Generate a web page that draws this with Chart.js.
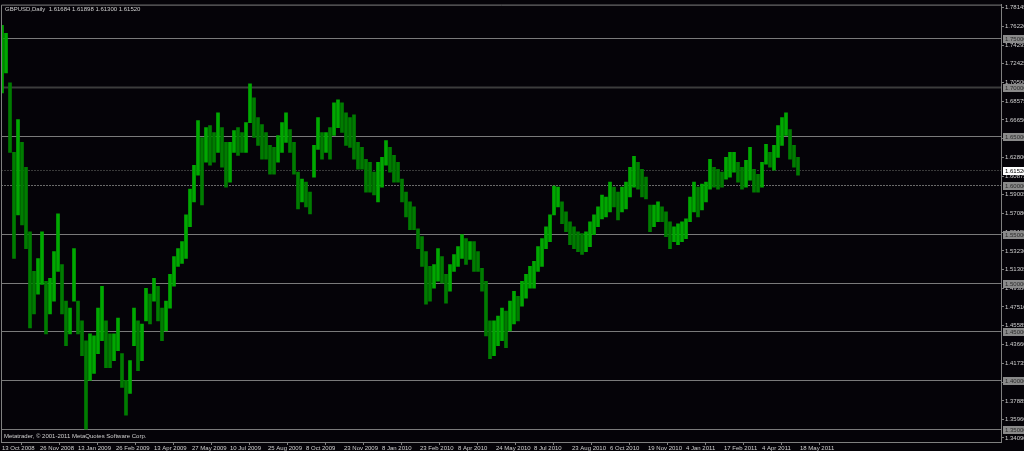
<!DOCTYPE html>
<html><head><meta charset="utf-8">
<script src="https://cdn.jsdelivr.net/npm/chart.js@4.4.1/dist/chart.umd.min.js"></script>
<style>html,body{margin:0;padding:0;background:#050308;overflow:hidden}#wrap{position:relative;width:1024px;height:451px}</style>
</head><body><div id="wrap"><canvas id="c"></canvas></div>
<script>
const symbolTitle = "GBPUSD,Daily  1.61684 1.61898 1.61300 1.61520";
const copyright = "Metatrader, \u00a9 2001-2011 MetaQuotes Software Corp.";
const dateLabels = ["13 Oct 2008","26 Nov 2008","13 Jan 2009","26 Feb 2009","13 Apr 2009","27 May 2009","10 Jul 2009","25 Aug 2009","8 Oct 2009","23 Nov 2009","8 Jan 2010","23 Feb 2010","8 Apr 2010","24 May 2010","8 Jul 2010","23 Aug 2010","6 Oct 2010","19 Nov 2010","4 Jan 2011","17 Feb 2011","4 Apr 2011","18 May 2011"];
const barsPerLabel = 38;
const barsPerSample = 4;
const highs = [1.7632,1.7551,1.7043,1.6333,1.6667,1.6434,1.6180,1.5520,1.5114,1.5246,
1.5520,1.5013,1.5043,1.5317,1.5703,1.5185,1.4810,1.4739,1.5348,1.4810,
1.4607,1.4404,1.4475,1.4454,1.4739,1.4962,1.4607,1.4475,1.4475,1.4637,
1.4272,1.3998,1.4201,1.4739,1.4607,1.4576,1.4942,1.4881,1.5043,1.4962,
1.4739,1.4810,1.5084,1.5267,1.5348,1.5419,1.5693,1.5957,1.6201,1.6657,
1.6485,1.6586,1.6607,1.6536,1.6738,1.6586,1.6434,1.6434,1.6556,1.6586,
1.6536,1.6637,1.7033,1.6891,1.6688,1.6617,1.6536,1.6404,1.6383,1.6505,
1.6637,1.6738,1.6566,1.6434,1.6130,1.6059,1.6028,1.5926,1.6404,1.6688,
1.6536,1.6536,1.6586,1.6840,1.6871,1.6840,1.6738,1.6688,1.6718,1.6434,
1.6383,1.6262,1.6231,1.6130,1.6231,1.6282,1.6454,1.6383,1.6302,1.6231,
1.6059,1.5926,1.5825,1.5774,1.5551,1.5470,1.5317,1.5165,1.5185,1.5348,
1.5267,1.5084,1.5185,1.5287,1.5368,1.5490,1.5449,1.5419,1.5419,1.5317,
1.5145,1.5013,1.4607,1.4607,1.4657,1.4739,1.4708,1.4810,1.4911,1.4860,
1.5013,1.5084,1.5165,1.5216,1.5368,1.5449,1.5571,1.5693,1.5987,1.5977,
1.5825,1.5723,1.5622,1.5571,1.5520,1.5500,1.5520,1.5622,1.5693,1.5774,
1.5896,1.5876,1.6028,1.5977,1.5926,1.5977,1.6028,1.6180,1.6292,1.6231,
1.6160,1.6079,1.5794,1.5794,1.5825,1.5774,1.5723,1.5622,1.5571,1.5602,
1.5622,1.5652,1.5876,1.6028,1.5977,1.6008,1.6028,1.6262,1.6180,1.6160,
1.6130,1.6282,1.6333,1.6333,1.6231,1.6180,1.6252,1.6383,1.6160,1.6109,
1.6231,1.6414,1.6333,1.6404,1.6607,1.6688,1.6738,1.6566,1.6404,1.6282];
const lows = [1.6941,1.7145,1.6333,1.5246,1.5693,1.5591,1.5348,1.4536,1.4678,1.4881,
1.4982,1.4475,1.4678,1.4810,1.5114,1.4678,1.4353,1.4475,1.4810,1.4475,
1.4251,1.3500,1.3998,1.4069,1.4272,1.4404,1.4130,1.4130,1.4201,1.4302,
1.3927,1.3642,1.3866,1.4353,1.4099,1.4201,1.4607,1.4576,1.4810,1.4607,
1.4404,1.4505,1.4739,1.4962,1.5165,1.5196,1.5246,1.5571,1.5825,1.6099,
1.5794,1.6231,1.6201,1.6231,1.6333,1.6180,1.5977,1.6028,1.6333,1.6302,
1.6333,1.6333,1.6637,1.6485,1.6404,1.6262,1.6262,1.6109,1.6109,1.6231,
1.6333,1.6434,1.6333,1.6109,1.5754,1.5825,1.5774,1.5703,1.6079,1.6363,
1.6262,1.6333,1.6262,1.6505,1.6586,1.6536,1.6404,1.6383,1.6262,1.6160,
1.6160,1.5926,1.5926,1.5896,1.5825,1.5977,1.6201,1.6130,1.6028,1.6028,
1.5825,1.5673,1.5541,1.5541,1.5348,1.5165,1.4779,1.4810,1.4942,1.5013,
1.4993,1.4789,1.4911,1.5114,1.5165,1.5246,1.5185,1.5236,1.5114,1.5114,
1.4911,1.4454,1.4221,1.4251,1.4353,1.4404,1.4333,1.4505,1.4576,1.4607,
1.4759,1.4840,1.4942,1.4942,1.5114,1.5165,1.5348,1.5419,1.5693,1.5774,
1.5602,1.5520,1.5388,1.5348,1.5317,1.5287,1.5317,1.5368,1.5490,1.5571,
1.5652,1.5673,1.5723,1.5774,1.5642,1.5723,1.5754,1.5876,1.5977,1.5957,
1.5876,1.5855,1.5520,1.5571,1.5622,1.5622,1.5470,1.5348,1.5419,1.5388,
1.5419,1.5449,1.5622,1.5723,1.5673,1.5744,1.5825,1.5957,1.5977,1.5957,
1.5977,1.6059,1.6079,1.6130,1.6028,1.5957,1.5977,1.6048,1.5926,1.5926,
1.5977,1.6211,1.6180,1.6150,1.6282,1.6404,1.6505,1.6262,1.6180,1.6099];
const priceTicks = [1.78145,1.76220,1.74295,1.72425,1.70500,1.68575,1.66650,1.64725,1.62800,1.60875,1.59005,1.57080,1.55155,1.53230,1.51305,1.49380,1.47510,1.45585,1.43660,1.41735,1.39810,1.37885,1.35960,1.34090];
const levelLines = [1.75,1.70,1.65,1.60,1.55,1.50,1.45,1.40,1.35];
const bidPrice = 1.61520;

const FONT = "'Liberation Sans', Arial, sans-serif";
const bars = highs.map((h, i) => ({x: i * barsPerSample, y: [lows[i], h]}));
const colors = highs.map((h, i) => {
  if (i === 0) return '#00a000';
  const m = (h + lows[i]) / 2, p = (highs[i-1] + lows[i-1]) / 2;
  return m >= p ? '#00a800' : '#007c00';
});

const decor = {
  id: 'decor',
  beforeDraw(chart) {
    const ctx = chart.ctx;
    ctx.save();
    ctx.fillStyle = '#050308';
    ctx.fillRect(0, 0, chart.width, chart.height);
    ctx.restore();
  },
  beforeDatasetsDraw(chart) {
    const {ctx, chartArea: a, scales: {y}} = chart;
    ctx.save();
    levelLines.forEach(v => {
      const py = Math.round(y.getPixelForValue(v)) + 0.5;
      ctx.beginPath();
      if (v === 1.70) { ctx.strokeStyle = '#3c3c3c'; ctx.lineWidth = 2; ctx.setLineDash([]); }
      else if (v === 1.60) { ctx.strokeStyle = '#6a6a6a'; ctx.lineWidth = 1; ctx.setLineDash([2, 1]); }
      else { ctx.strokeStyle = '#7a7a7a'; ctx.lineWidth = 1; ctx.setLineDash([]); }
      ctx.moveTo(a.left, py); ctx.lineTo(a.right, py); ctx.stroke();
    });
    const by = Math.round(y.getPixelForValue(bidPrice)) + 0.5;
    ctx.strokeStyle = '#3a3a3a'; ctx.lineWidth = 1; ctx.setLineDash([2, 1]);
    ctx.beginPath(); ctx.moveTo(a.left, by); ctx.lineTo(a.right, by); ctx.stroke();
    ctx.restore();
  },
  afterDraw(chart) {
    const {ctx, chartArea: a, scales: {y}} = chart;
    ctx.save();
    ctx.strokeStyle = '#808080'; ctx.lineWidth = 1;
    ctx.beginPath();
    ctx.moveTo(a.left + 0.5, a.bottom); ctx.lineTo(a.left + 0.5, a.top + 0.5); ctx.lineTo(a.right, a.top + 0.5);
    ctx.stroke();
    ctx.font = '6px ' + FONT;
    ctx.textBaseline = 'middle';
    ctx.textAlign = 'left';
    const boxX = a.right + 2;
    levelLines.forEach(v => {
      const py = Math.round(y.getPixelForValue(v));
      ctx.fillStyle = '#8a8a8a';
      ctx.fillRect(boxX, py - 3, chart.width - boxX, 8);
      ctx.fillStyle = '#2a2a2a';
      ctx.fillText(v.toFixed(5), boxX + 2, py + 1);
    });
    const bp = Math.round(y.getPixelForValue(bidPrice));
    ctx.fillStyle = '#ffffff';
    ctx.fillRect(boxX, bp - 3, chart.width - boxX, 8);
    ctx.fillStyle = '#000000';
    ctx.fillText(bidPrice.toFixed(5), boxX + 2, bp + 1);
    ctx.fillStyle = '#d0d0d0';
    ctx.fillText(symbolTitle, a.left + 4, a.top + 5);
    ctx.fillText(copyright, a.left + 3, a.bottom - 6);
    ctx.restore();
  }
};

new Chart(document.getElementById('c'), {
  type: 'bar',
  data: { datasets: [{ data: bars, backgroundColor: colors, borderWidth: 0, barThickness: 3 }] },
  options: {
    responsive: true, maintainAspectRatio: false, animation: false,
    layout: { padding: { left: 1, top: 1, right: 0, bottom: 0 } },
    plugins: { legend: { display: false }, tooltip: { enabled: false } },
    scales: {
      x: {
        type: 'linear', min: -1, max: 999, offset: false,
        afterBuildTicks: s => { s.ticks = dateLabels.map((_, k) => ({ value: k * barsPerLabel })); },
        afterFit: s => { s.height = 9; },
        ticks: { autoSkip: false, maxRotation: 0, align: 'start', padding: 0, color: '#d0d0d0', font: { size: 6, family: FONT },
          callback: v => dateLabels[Math.round(v / barsPerLabel)] },
        grid: { drawOnChartArea: false, drawTicks: true, tickLength: 3, color: '#808080' },
        border: { color: '#808080' }
      },
      y: {
        type: 'linear', position: 'right', min: 1.3368, max: 1.7845,
        afterBuildTicks: s => { s.ticks = priceTicks.map(v => ({ value: v })); },
        afterFit: s => { s.width = 23; },
        ticks: { autoSkip: false, padding: 1, color: '#d0d0d0', font: { size: 6, family: FONT },
          callback: v => Number(v).toFixed(5) },
        grid: { drawOnChartArea: false, drawTicks: true, tickLength: 3, color: '#808080' },
        border: { color: '#808080' }
      }
    }
  },
  plugins: [decor]
});
</script></body></html>
